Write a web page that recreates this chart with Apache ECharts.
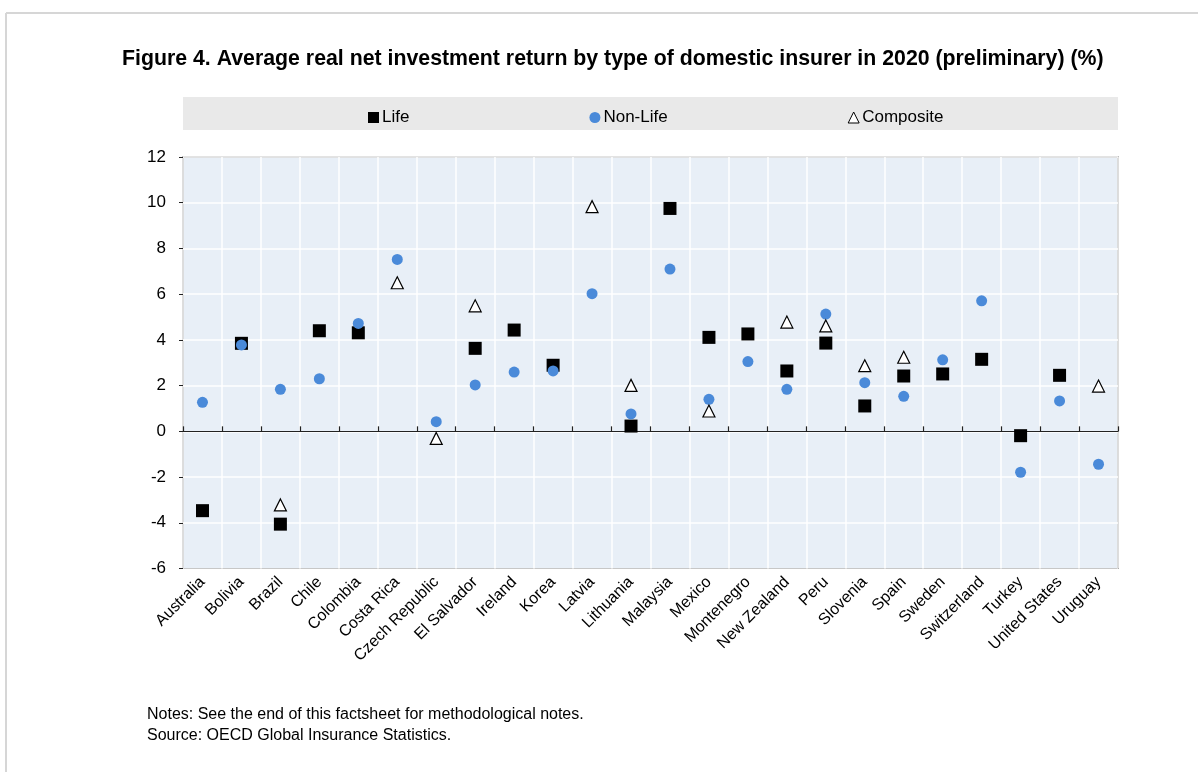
<!DOCTYPE html>
<html>
<head>
<meta charset="utf-8">
<script src="https://cdn.jsdelivr.net/npm/echarts@6/dist/echarts.min.js"></script>
<style>
html,body{margin:0;padding:0;background:#fff;}
#c{width:1198px;height:772px;}
</style>
</head>
<body>
<div id="c"></div>
<script>
const categories = ["Australia","Bolivia","Brazil","Chile","Colombia","Costa Rica","Czech Republic","El Salvador","Ireland","Korea","Latvia","Lithuania","Malaysia","Mexico","Montenegro","New Zealand","Peru","Slovenia","Spain","Sweden","Switzerland","Turkey","United States","Uruguay"];
const lifeValues = [-3.47, 3.85, -4.06, 4.40, 4.31, null, null, 3.63, 4.43, 2.89, null, 0.23, 9.75, 4.11, 4.26, 2.64, 3.86, 1.11, 2.42, 2.51, 3.15, -0.19, 2.45, null];
const nonLifeValues = [1.27, 3.78, 1.84, 2.30, 4.72, 7.52, 0.42, 2.03, 2.59, 2.64, 6.02, 0.76, 7.10, 1.40, 3.05, 1.84, 5.13, 2.13, 1.53, 3.13, 5.71, -1.79, 1.33, -1.44];
const compositeValues = [null, null, -3.22, null, null, 6.50, -0.31, 5.49, null, null, 9.83, 2.01, null, 0.89, null, 4.78, 4.61, 2.87, 3.24, null, null, null, null, 1.98];
const yTicks = {min: -6, max: 12, interval: 2};
const seriesNames = ["Life", "Non-Life", "Composite"];
const titleText = "Figure 4. Average real net investment return by type of domestic insurer in 2020 (preliminary) (%)";
const notesText = "Notes: See the end of this factsheet for methodological notes.";
const sourceText = "Source: OECD Global Insurance Statistics.";

const narrow = "'Liberation Sans Narrow', 'Arial Narrow', 'Liberation Sans', Arial, sans-serif";
const sans = "'Liberation Sans', Arial, sans-serif";
const blue = '#4a8ad9';

const chart = echarts.init(document.getElementById('c'), null, {renderer: 'canvas'});
chart.setOption({
  backgroundColor: '#fff',
  animation: false,
  title: {
    text: titleText,
    left: 117, top: 44,
    textStyle: {fontFamily: sans, fontWeight: 'bold', fontSize: 21.3, color: '#000'}
  },
  graphic: [
    {type: 'line', shape: {x1: 6, y1: 13, x2: 1198, y2: 13}, style: {stroke: '#d6d6d6', lineWidth: 2}, z: -10},
    {type: 'line', shape: {x1: 6, y1: 13, x2: 6, y2: 772}, style: {stroke: '#d6d6d6', lineWidth: 2}, z: -10},
    {type: 'rect', shape: {x: 183, y: 97, width: 935, height: 33}, style: {fill: '#e9e9e9'}, z: -5},
    {type: 'text', left: 147, top: 707, style: {text: notesText, font: "16px " + sans, fill: '#000'}},
    {type: 'text', left: 147, top: 728, style: {text: sourceText, font: "16px " + sans, fill: '#000'}}
  ],
  legend: {
    left: 363, top: 104,
    itemGap: 180, itemWidth: 11, itemHeight: 11,
    textStyle: {fontFamily: narrow, fontSize: 17, color: '#000', padding: [0, 0, 0, -2]},
    data: [
      {name: seriesNames[0], icon: 'rect', itemStyle: {color: '#000'}},
      {name: seriesNames[1], icon: 'circle', itemStyle: {color: blue}},
      {name: seriesNames[2], icon: 'triangle', itemStyle: {color: '#fff', borderColor: '#000', borderWidth: 1}}
    ]
  },
  grid: {
    left: 183, right: 80, top: 157, bottom: 203.5,
    show: true, backgroundColor: '#e8eff7', borderColor: '#222', borderWidth: 1.2
  },
  xAxis: [
    {
      type: 'category', data: categories, boundaryGap: true,
      axisLine: {show: false, onZero: false},
      axisTick: {show: false},
      splitLine: {show: true, interval: 0, lineStyle: {color: '#fff', width: 1.5}},
      axisLabel: {interval: 0, rotate: 45, margin: 11, fontFamily: narrow, fontSize: 16, color: '#000'}
    },
    {
      type: 'category', data: categories, boundaryGap: true, position: 'bottom',
      axisLine: {show: true, onZero: true, lineStyle: {color: '#222', width: 1.2}},
      axisTick: {show: true, inside: true, length: 5, interval: 0, lineStyle: {color: '#222', width: 1.2}},
      axisLabel: {show: false},
      splitLine: {show: false}
    }
  ],
  yAxis: {
    type: 'value', min: yTicks.min, max: yTicks.max, interval: yTicks.interval,
    axisLine: {show: false},
    axisTick: {show: true, length: 4, lineStyle: {color: '#222'}},
    splitLine: {show: true, lineStyle: {color: '#fff', width: 1.5}},
    axisLabel: {margin: 17, fontFamily: narrow, fontSize: 17, color: '#000'}
  },
  series: [
    {name: seriesNames[0], type: 'scatter', data: lifeValues, symbol: 'rect', symbolSize: 13,
     itemStyle: {color: '#000', opacity: 1}, z: 3},
    {name: seriesNames[1], type: 'scatter', data: nonLifeValues, symbol: 'circle', symbolSize: 11,
     itemStyle: {color: blue, opacity: 1}, z: 4},
    {name: seriesNames[2], type: 'scatter', data: compositeValues, symbol: 'triangle', symbolSize: 12,
     itemStyle: {color: '#fff', borderColor: '#000', borderWidth: 1.2, opacity: 1}, z: 5}
  ]
});
</script>
</body>
</html>
